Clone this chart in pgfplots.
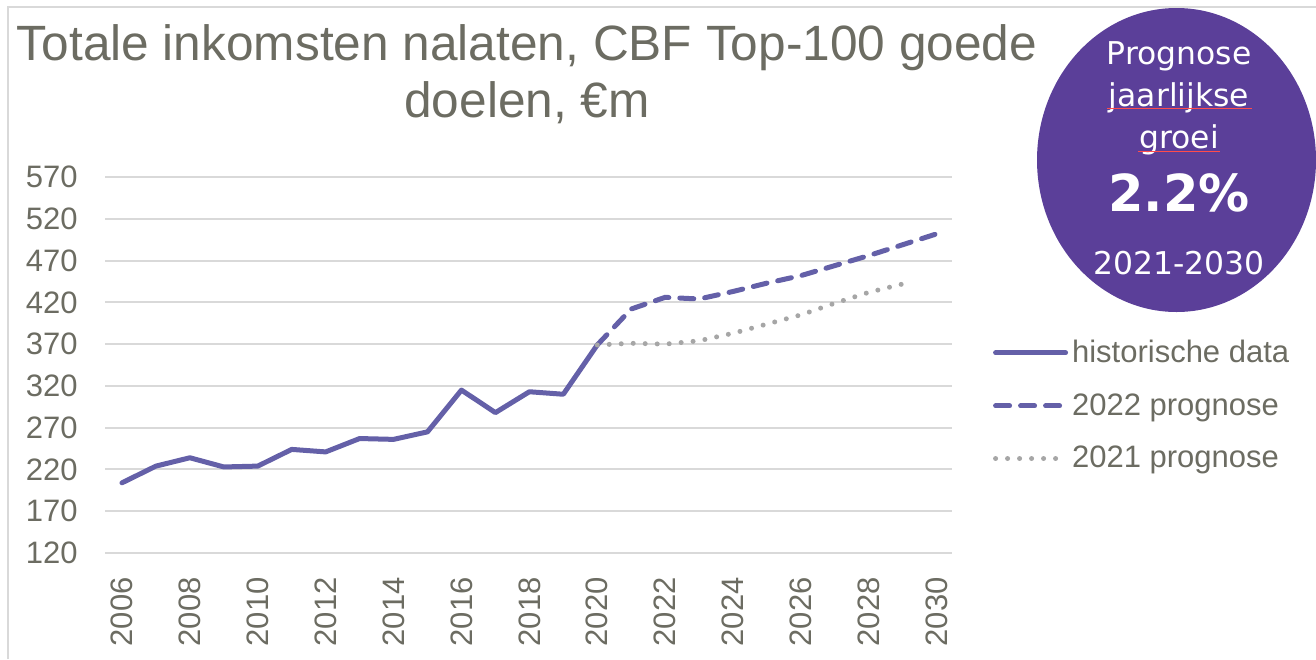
\documentclass[border=0pt]{standalone}
\usepackage{fontspec}
\setmainfont{Liberation Sans}
\newfontfamily\dejavu{DejaVu Sans}
\usepackage{pgfplots}
\pgfplotsset{compat=1.18}
\definecolor{txtgray}{RGB}{108,108,98}
\definecolor{gridgray}{RGB}{217,217,217}
\definecolor{histblue}{RGB}{100,96,168}
\definecolor{dotgray}{RGB}{166,166,166}
\definecolor{bubble}{RGB}{91,63,153}
\begin{document}
\begin{tikzpicture}[x=0.5pt,y=-0.5pt]
\useasboundingbox (0,0) rectangle (1316,659);
\draw[gridgray,line width=0.8pt] (8,659) -- (8,7) -- (1316,7);
\node[txtgray,anchor=base,inner sep=0pt,font=\fontsize{24.8pt}{30pt}\selectfont] at (527,60) {Totale inkomsten nalaten, CBF Top-100 goede};
\node[txtgray,anchor=base,inner sep=0pt,font=\fontsize{24.8pt}{30pt}\selectfont] at (527,117) {doelen, €m};
\begin{axis}[at={(52.5pt,-276.5pt)},anchor=south west,scale only axis,
  width=423.5pt,height=188pt,
  xmin=2005.5,xmax=2030.45,ymin=120,ymax=570,
  xtick={2006,2008,...,2030},ytick={120,170,...,570},
  axis line style={draw=none},tick style={draw=none},
  ymajorgrids,grid style={gridgray,line width=1pt},
  /pgf/number format/1000 sep={},
  /pgf/number format/assume math mode=true,
  tick label style={txtgray,font=\fontsize{15.5pt}{18pt}\selectfont},
  yticklabel style={anchor=east,inner sep=0pt,xshift=-13.5pt},
  xticklabel style={yshift=-12pt,rotate=90,anchor=east,inner sep=0pt},
  legend style={at={(1.048,0.578)},anchor=north west,draw=none,fill=none,
    font=\fontsize{15.5pt}{18pt}\selectfont,text=txtgray,
    row sep=10pt,cells={anchor=west},inner sep=0pt},
  legend image code/.code={\draw[#1] (0pt,0pt) -- (35pt,0pt);},
  every axis plot/.append style={line width=2.5pt,line join=round}]
\addplot[histblue,line cap=round] coordinates {(2006,204) (2007,224) (2008,234) (2009,223) (2010,224) (2011,244) (2012,241) (2013,257) (2014,256) (2015,265) (2016,315) (2017,288) (2018,313) (2019,310) (2020,369)};
\addlegendentry{historische data}
\addplot[histblue,line cap=round,dash pattern=on 7pt off 5.5pt] coordinates {(2020,369) (2021,412) (2022,426) (2023,424) (2024,433) (2025,443) (2026,452) (2027,464) (2028,476) (2029,489) (2030,502)};
\addlegendentry{2022 prognose}
\addplot[dotgray,line cap=round,dash pattern=on 0pt off 6pt] coordinates {(2020,369) (2021,371) (2022,370) (2023,374) (2024,383) (2025,394) (2026,405) (2027,419) (2028,432) (2029,442)};
\addlegendentry{2021 prognose}
\end{axis}
\fill[bubble] (1176.5,160) ellipse [x radius=139.5,y radius=152];
\begin{scope}[every node/.style={white,anchor=base,inner sep=0pt}]
\node[font=\dejavu\fontsize{15.7pt}{18pt}\selectfont] at (1179,64) {Prognose};
\node[font=\dejavu\fontsize{15.7pt}{18pt}\selectfont] at (1179,106) {jaarlijkse};
\node[font=\dejavu\fontsize{15.7pt}{18pt}\selectfont] at (1179,148) {groei};
\node[font=\dejavu\bfseries\fontsize{25.5pt}{30pt}\selectfont] at (1179,211) {2.2\%};
\node[font=\dejavu\fontsize{15.7pt}{18pt}\selectfont] at (1179,274) {2021-2030};
\end{scope}
\draw[red!70!white,line width=0.4pt] (1107,108) -- (1252,108);
\draw[red!70!white,line width=0.4pt] (1138,151) -- (1220,151);
\end{tikzpicture}
\end{document}
